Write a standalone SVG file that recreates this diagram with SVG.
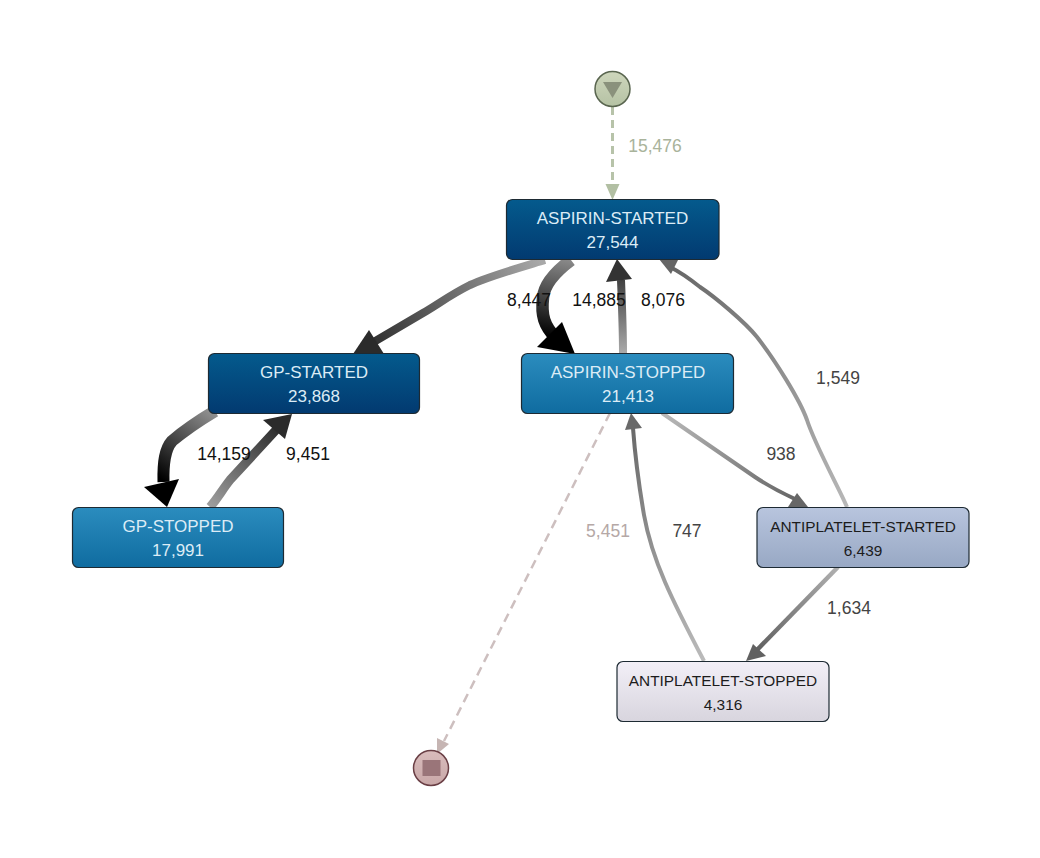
<svg xmlns="http://www.w3.org/2000/svg" width="1040" height="858" viewBox="0 0 1040 858">
<style>
text{font-family:"Liberation Sans",Arial,sans-serif;text-anchor:middle}
.n{stroke:#1d2a33;stroke-width:1.2}
.nt{font-size:17px;fill:#dcecf6}
.nd{font-size:15.4px;fill:#1c1c1c}
.e{font-size:17.5px;fill:#111}
.g{font-size:17.5px;fill:#444}
.edge{fill:none;stroke-linecap:butt}
</style>
<defs>
<linearGradient id="dark" x1="0" y1="0" x2="0" y2="1"><stop offset="0" stop-color="#045a8d"/><stop offset="1" stop-color="#023a70"/></linearGradient>
<linearGradient id="mid" x1="0" y1="0" x2="0" y2="1"><stop offset="0" stop-color="#2b8cbe"/><stop offset="1" stop-color="#0f6ca0"/></linearGradient>
<linearGradient id="pale" x1="0" y1="0" x2="0" y2="1"><stop offset="0" stop-color="#b8c5de"/><stop offset="1" stop-color="#98a8c4"/></linearGradient>
<linearGradient id="white" x1="0" y1="0" x2="0" y2="1"><stop offset="0" stop-color="#f2eff7"/><stop offset="1" stop-color="#d8d5de"/></linearGradient>
<linearGradient id="sg" x1="0" y1="0" x2="0" y2="1"><stop offset="0" stop-color="#ced6bc"/><stop offset="1" stop-color="#b5c2a4"/></linearGradient>
<linearGradient id="eg" x1="0" y1="0" x2="0" y2="1"><stop offset="0" stop-color="#d9bcbc"/><stop offset="1" stop-color="#c9a8a8"/></linearGradient>
<linearGradient id="e1" gradientUnits="userSpaceOnUse" x1="540" y1="260" x2="365" y2="345"><stop offset="0" stop-color="#a8a8a8"/><stop offset="1" stop-color="#2b2b2b"/></linearGradient>
<linearGradient id="e2" gradientUnits="userSpaceOnUse" x1="570" y1="260" x2="555" y2="338"><stop offset="0" stop-color="#8a8a8a"/><stop offset="1" stop-color="#000"/></linearGradient>
<linearGradient id="e3" gradientUnits="userSpaceOnUse" x1="623" y1="353" x2="620" y2="270"><stop offset="0" stop-color="#aaa"/><stop offset="1" stop-color="#333"/></linearGradient>
<linearGradient id="e4" gradientUnits="userSpaceOnUse" x1="847" y1="507" x2="668" y2="268"><stop offset="0" stop-color="#b8b8b8"/><stop offset="1" stop-color="#666"/></linearGradient>
<linearGradient id="e5" gradientUnits="userSpaceOnUse" x1="665" y1="413" x2="795" y2="498"><stop offset="0" stop-color="#b8b8b8"/><stop offset="1" stop-color="#666"/></linearGradient>
<linearGradient id="e6" gradientUnits="userSpaceOnUse" x1="838" y1="567" x2="758" y2="650"><stop offset="0" stop-color="#b0b0b0"/><stop offset="1" stop-color="#616161"/></linearGradient>
<linearGradient id="e7" gradientUnits="userSpaceOnUse" x1="705" y1="661" x2="632" y2="428"><stop offset="0" stop-color="#bbb"/><stop offset="1" stop-color="#696969"/></linearGradient>
<linearGradient id="e8" gradientUnits="userSpaceOnUse" x1="218" y1="410" x2="165" y2="482"><stop offset="0" stop-color="#999"/><stop offset="1" stop-color="#000"/></linearGradient>
<linearGradient id="e9" gradientUnits="userSpaceOnUse" x1="208" y1="507" x2="278" y2="426"><stop offset="0" stop-color="#a0a0a0"/><stop offset="1" stop-color="#2b2b2b"/></linearGradient>
</defs>
<g id="connectors">
<path class="edge" d="M612.5 107V186" stroke="#b7c3a9" stroke-width="3" stroke-dasharray="8 5"/>
<polygon points="612.5,200 605.5,184 619.5,184" fill="#b2bfa3"/>
<path class="edge" d="M545 260C515 269 490 276 470 285C450 295 440 303 423 313L372 343" stroke="url(#e1)" stroke-width="8"/>
<polygon points="353,354 369,330 384,354" fill="#2b2b2b"/>
<path class="edge" d="M571 260C555 272 544 284 543 298C541 315 544 326 556 338" stroke="url(#e2)" stroke-width="12.5"/>
<polygon points="537,347 562,322 575,354" fill="#000"/>
<path class="edge" d="M623 353C623 330 622 305 621 280" stroke="url(#e3)" stroke-width="8"/>
<polygon points="617,259 632,279 606,282" fill="#333"/>
<path class="edge" d="M847 507C840 490 815 445 807 420C800 400 775 360 757 337C745 322 715 297 700 287C690 279 680 272 670 267" stroke="url(#e4)" stroke-width="4"/>
<polygon points="659,259 678,260 671,274" fill="#666"/>
<path class="edge" d="M662 413L755 477C770 487 782 493 795 499" stroke="url(#e5)" stroke-width="4"/>
<polygon points="808,507 788,507 797,493" fill="#666"/>
<path class="edge" d="M838 567L757 650" stroke="url(#e6)" stroke-width="4.5"/>
<polygon points="746,661 753,644 766,656" fill="#616161"/>
<path class="edge" d="M704 661C672 600 652 560 644 515C638 480 635 455 633 428" stroke="url(#e7)" stroke-width="4"/>
<polygon points="631,413 642,428 625,430" fill="#696969"/>
<path class="edge" d="M610 413L444 741" stroke="#cdbfbf" stroke-width="2.5" stroke-dasharray="9 6"/>
<polygon points="437,754 437,738 449,744" fill="#c6b5b3"/>
<path class="edge" d="M215 411C200 420 185 430 172 441C165 449 163 462 163.5 482" stroke="url(#e8)" stroke-width="12"/>
<polygon points="167,507 144,487 179,479" fill="#000"/>
<path class="edge" d="M210 507C218 498 222 490 230 480L276 430" stroke="url(#e9)" stroke-width="9"/>
<polygon points="292,414 263,420 285,439" fill="#2b2b2b"/>
</g>
<g id="labels">
<text x="655" y="152" style="font-size:17.5px;fill:#a9b39b">15,476</text>
<text x="529" y="306" class="e">8,447</text>
<text x="599" y="306" class="e">14,885</text>
<text x="663" y="306" class="e">8,076</text>
<text x="224" y="460" class="e">14,159</text>
<text x="308" y="460" class="e">9,451</text>
<text x="838" y="384" class="g">1,549</text>
<text x="781" y="460" class="g">938</text>
<text x="608" y="537" style="font-size:17.5px;fill:#b5a8a6">5,451</text>
<text x="687" y="537" class="g">747</text>
<text x="849" y="614" class="g">1,634</text>
</g>
<g id="start"><circle cx="612.5" cy="89" r="17.5" fill="url(#sg)" stroke="#59654f" stroke-width="1.5"/><polygon points="603,82 622,82 612.5,98" fill="#8a917c"/></g>
<g id="end"><circle cx="431" cy="768" r="17.5" fill="url(#eg)" stroke="#6a3f45" stroke-width="1.5"/><rect x="422.5" y="760" width="18" height="16" fill="#9a7579"/></g>
<g id="aspirin-started"><rect class="n" x="506.5" y="199.5" width="212.5" height="60" rx="6" fill="url(#dark)"/><text x="612.5" y="223.5" class="nt">ASPIRIN-STARTED</text><text x="612.5" y="248" class="nt">27,544</text></g>
<g id="gp-started"><rect class="n" x="208.5" y="353.5" width="211" height="60" rx="6" fill="url(#dark)"/><text x="314" y="377.5" class="nt">GP-STARTED</text><text x="314" y="402" class="nt">23,868</text></g>
<g id="aspirin-stopped"><rect class="n" x="521.5" y="353.5" width="212" height="60" rx="6" fill="url(#mid)"/><text x="628" y="377.5" class="nt">ASPIRIN-STOPPED</text><text x="628" y="402" class="nt">21,413</text></g>
<g id="gp-stopped"><rect class="n" x="72.5" y="507.5" width="211" height="60" rx="6" fill="url(#mid)"/><text x="178" y="531.5" class="nt">GP-STOPPED</text><text x="178" y="556" class="nt">17,991</text></g>
<g id="antiplatelet-started"><rect class="n" x="757" y="507.5" width="212" height="60" rx="6" fill="url(#pale)"/><text x="863" y="532" class="nd">ANTIPLATELET-STARTED</text><text x="863" y="555.5" class="nd">6,439</text></g>
<g id="antiplatelet-stopped"><rect class="n" x="617" y="661.5" width="212" height="60" rx="6" fill="url(#white)"/><text x="723" y="686" class="nd">ANTIPLATELET-STOPPED</text><text x="723" y="709.5" class="nd">4,316</text></g>
</svg>
